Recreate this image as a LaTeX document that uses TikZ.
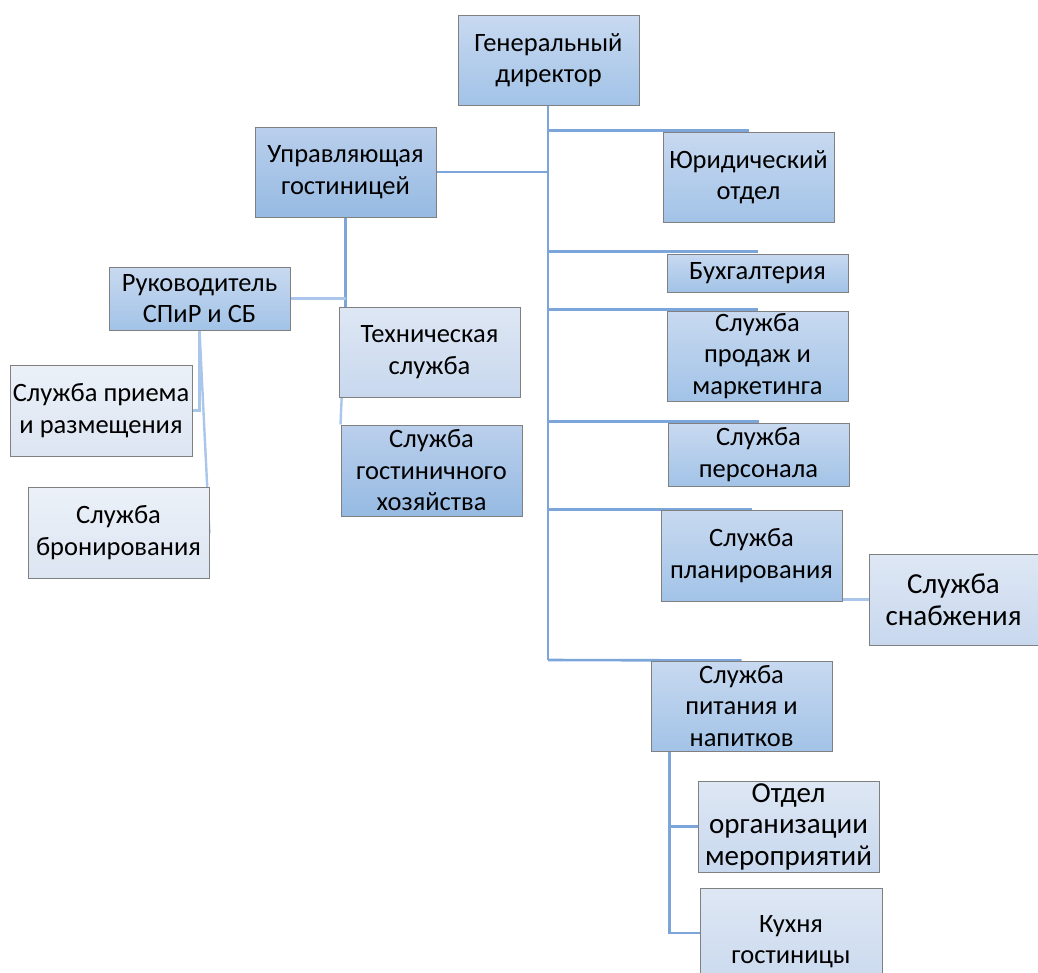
\documentclass[tikz,border=0pt]{standalone}
\usepackage{fontspec}
\setmainfont{Carlito}
\definecolor{dTop}{RGB}{200,217,240}
\definecolor{dBot}{RGB}{162,195,231}
\definecolor{xTop}{RGB}{186,207,236}
\definecolor{xBot}{RGB}{150,186,226}
\definecolor{lTop}{RGB}{222,231,244}
\definecolor{lBot}{RGB}{200,216,238}
\definecolor{vTop}{RGB}{236,241,248}
\definecolor{vBot}{RGB}{220,229,242}
\definecolor{bord}{RGB}{128,128,128}
\definecolor{lineA}{RGB}{124,166,218}
\definecolor{lineB}{RGB}{170,198,234}
\pgfdeclarelayer{bg}\pgfsetlayers{bg,main}
\tikzset{
  x=1pt, y=-1pt,
  box/.style={draw=bord, line width=1pt, align=center, inner sep=1pt, text=black,
    font=\fontsize{26.5}{31.5}\selectfont},
  dark/.style={box, top color=dTop, bottom color=dBot},
  xdark/.style={box, top color=xTop, bottom color=xBot},
  light/.style={box, top color=lTop, bottom color=lBot},
  vlight/.style={box, top color=vTop, bottom color=vBot},
  big/.style={font=\fontsize{29}{31.5}\selectfont},
  conn/.style={draw=lineA, line width=2.6pt},
  connl/.style={draw=lineB, line width=2.4pt},
}
\begin{document}
\begin{tikzpicture}
\useasboundingbox (0,0) rectangle (1038,972);
\coordinate (trunk) at (548,0);
\node[dark, minimum width=181, minimum height=90] (gd) at (548.5,60) {Генеральный\\директор};
\node[dark, minimum width=171, minimum height=90] (yur) at (748.5,177) {Юридический\\отдел};
\node[dark, minimum width=181, minimum height=38] (buh) at (757.5,273) {Бухгалтерия};
\node[dark, minimum width=181, minimum height=90] (prod) at (757.5,356) {Служба\\продаж и\\маркетинга};
\node[dark, minimum width=181, minimum height=63] (pers) at (758.5,454.5) {Служба\\персонала};
\node[dark, minimum width=181, minimum height=91] (plan) at (751.5,555.5) {Служба\\планирования};
\node[light, big, minimum width=169, minimum height=91] (snab) at (953.5,599.5) {Служба\\снабжения};
\node[dark, minimum width=181, minimum height=90] (pit) at (741.5,706) {Служба\\питания и\\напитков};
\node[light, big, minimum width=181, minimum height=91] (otd) at (788.5,826.5) {Отдел\\организации\\мероприятий};
\node[light, minimum width=182, minimum height=106, anchor=north] (kux) at (791,888) {Кухня\\гостиницы};
\node[xdark, minimum width=181, minimum height=90] (upr) at (345.5,172) {Управляющая\\гостиницей};
\node[dark, minimum width=181, minimum height=63] (ruk) at (199.5,298.5) {Руководитель\\СПиР и СБ};
\node[light, minimum width=181, minimum height=90] (tech) at (429.5,352) {Техническая\\служба};
\node[xdark, minimum width=181, minimum height=91] (hoz) at (431.5,470.5) {Служба\\гостиничного\\хозяйства};
\node[vlight, minimum width=182, minimum height=91] (pri) at (101,410.5) {Служба приема\\и размещения};
\node[vlight, minimum width=181, minimum height=91] (bron) at (118.5,532.5) {Служба\\бронирования};
\begin{pgfonlayer}{bg}
  \coordinate (tend) at (548,660);
  \draw[conn] (gd.south -| trunk) -- (tend);
  \draw[conn] (trunk |- yur.north) ++(0,-1) -- ([yshift=1]yur.north);
  \draw[conn] (trunk |- upr.east) -- (upr.east);
  \draw[conn] (trunk |- buh.north) ++(0,-2) -- ([yshift=2]buh.north);
  \draw[conn] (trunk |- prod.north) ++(0,-1) -- ([yshift=1]prod.north);
  \draw[conn] (trunk |- pers.north) ++(0,-1) -- ([yshift=1]pers.north);
  \draw[conn] (trunk |- plan.north) -- (plan.north);
  \draw[conn] (tend) -- (pit.north);
  \coordinate (pv) at ([xshift=19]pit.south west);
  \coordinate (kj) at (0,933);
  \draw[conn] (pv) |- (kux.west |- kj);
  \draw[conn] (pv |- otd.west) -- (otd.west);
  \coordinate (ps) at ([xshift=18]plan.south west);
  \draw[connl] (ps |- snab.west) -- (snab.west);
  \coordinate (us) at (upr.south |- tech.north);
  \draw[conn] (upr.south) -- ([yshift=-2]us) -- ([yshift=-2]tech.north);
  \draw[connl] ([yshift=-2]us) -- (hoz.north west);
  \draw[connl] (ruk.east) -- (upr.south |- ruk.east);
  \draw[connl] (ruk.south) |- (pri.east);
  \draw[connl] (ruk.south) -- ([yshift=-1]bron.east);
\end{pgfonlayer}
\end{tikzpicture}
\end{document}
